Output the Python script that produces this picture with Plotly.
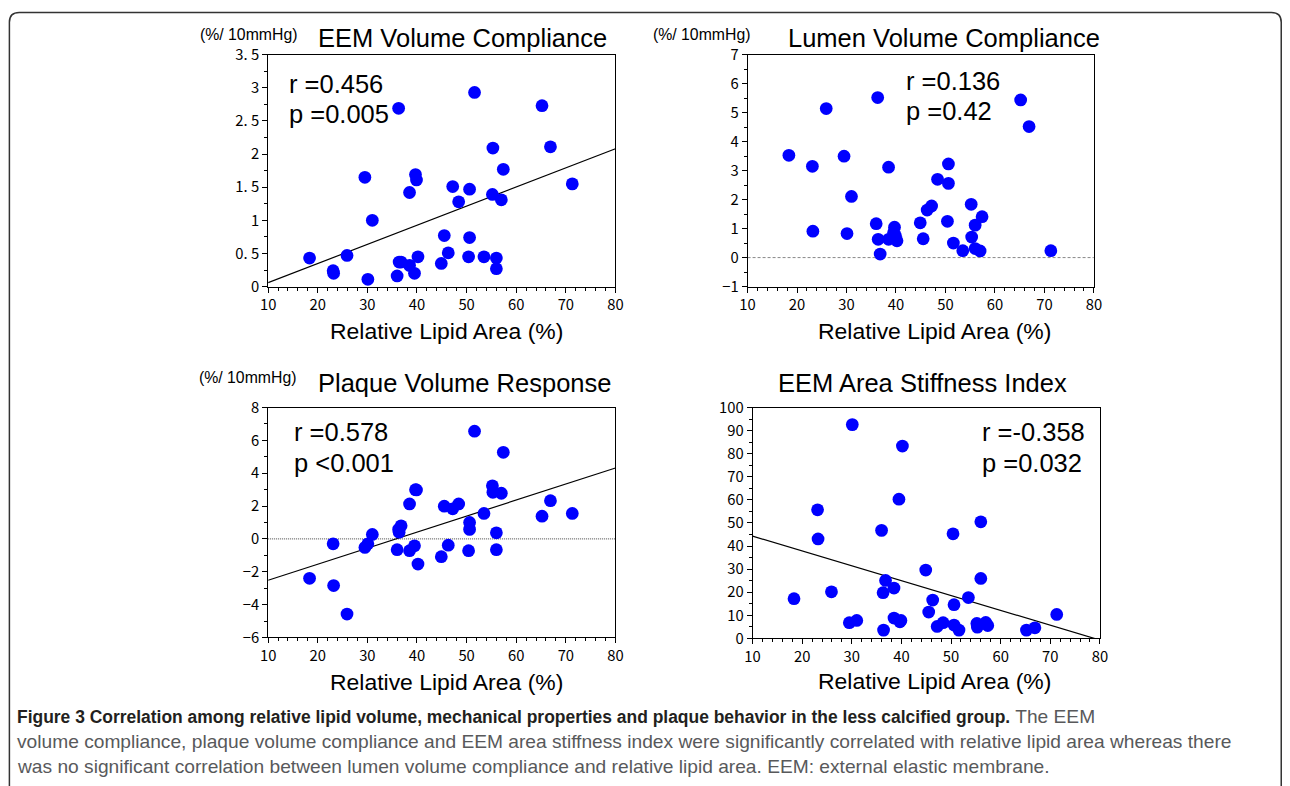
import plotly.graph_objects as go

W, H = 1290, 786
# measured placement of the page in the final picture (picture_px = S * page_px + B)
SX, BX = 0.9867, 8.1
SY, BY = 0.9737, 11.3
FS = 1.0 / ((SX + SY) / 2)  # font compensation

# ---------------- data ----------------
lipid_area = [18.35, 23.1, 23.2, 25.9, 29.5, 30.1, 31.0, 36.0, 36.3, 36.4, 36.8, 38.5,
              38.5, 39.5, 39.7, 39.9, 40.2, 44.9, 45.5, 46.3, 47.2, 48.4, 50.4, 50.6,
              50.6, 51.6, 53.5, 55.2, 55.3, 56.0, 56.0, 57.0, 57.4, 65.2, 66.9, 71.3]

eem_volume_compliance = [0.43, 0.24, 0.20, 0.47, 1.65, 0.11, 1.00, 0.16, 2.69, 0.37, 0.37, 1.42,
                         0.32, 0.20, 1.69, 1.61, 0.45, 0.35, 0.77, 0.51, 1.51, 1.28, 0.45, 1.47,
                         0.74, 2.93, 0.45, 1.39, 2.09, 0.43, 0.27, 1.31, 1.77, 2.73, 2.11, 1.55]

lumen_volume_compliance = [3.53, 3.15, 0.91, 5.14, 3.50, 0.83, 2.11, 1.17, 5.52, 0.63, 0.12, 3.12,
                           0.63, 0.86, 1.05, 0.75, 0.58, 1.20, 0.65, 1.64, 1.78, 2.70, 1.25, 3.23,
                           2.56, 0.50, 0.24, 1.84, 0.71, 1.12, 0.31, 0.23, 1.41, 5.44, 4.52, 0.24]

plaque_volume_response = [-2.40, -0.30, -2.84, -4.58, -0.52, -0.30, 0.27, -0.66, 0.58, 0.41, 0.80, 2.13,
                          -0.72, -0.42, 3.00, 2.98, -1.53, -1.08, 1.99, -0.38, 1.83, 2.13, -0.72, 1.00,
                          0.58, 6.56, 1.55, 3.23, 2.84, 0.37, -0.66, 2.78, 5.27, 1.38, 2.33, 1.55]

eem_stiffness_index = [17.2, 55.7, 43.1, 20.2, 6.8, 92.6, 7.8, 46.8, 19.8, 3.6, 25.1, 21.8,
                       8.8, 60.3, 7.2, 7.8, 83.3, 29.6, 11.4, 16.6, 5.2, 6.8, 45.3, 5.8,
                       14.6, 3.6, 17.7, 6.5, 4.9, 50.5, 26.0, 6.9, 5.6, 3.6, 4.6, 10.4]

panel_titles = ["EEM Volume Compliance", "Lumen Volume Compliance",
                "Plaque Volume Response", "EEM Area Stiffness Index"]
stats_r = ["r =0.456", "r =0.136", "r =0.578", "r =-0.358"]
stats_p = ["p =0.005", "p =0.42", "p <0.001", "p =0.032"]
unit_label = "(%/ 10mmHg)"
x_title = "Relative Lipid Area (%)"

# regression lines (None = not drawn)
fit_slope = [0.02886, None, 0.0977, -0.643]
fit_intercept = [-0.229, None, -3.497, 50.73]

x_ticks = [10, 20, 30, 40, 50, 60, 70, 80]
y1_ticks = [0, 0.5, 1, 1.5, 2, 2.5, 3, 3.5]
y1_ticktext = ["0", "0. 5", "1", "1. 5", "2", "2. 5", "3", "3. 5"]
y2_ticks = [-1, 0, 1, 2, 3, 4, 5, 6, 7]
y2_ticktext = ["−1", "0", "1", "2", "3", "4", "5", "6", "7"]
y3_ticks = [-6, -4, -2, 0, 2, 4, 6, 8]
y3_ticktext = ["−6", "−4", "−2", "0", "2", "4", "6", "8"]
y4_ticks = [0, 10, 20, 30, 40, 50, 60, 70, 80, 90, 100]
y4_ticktext = ["0", "10", "20", "30", "40", "50", "60", "70", "80", "90", "100"]

caption_bold = "Figure 3 Correlation among relative lipid volume, mechanical properties and plaque behavior in the less calcified group."
caption_lines = [" The EEM",
                 "volume compliance, plaque volume compliance and EEM area stiffness index were significantly correlated with relative lipid area whereas there",
                 "was no significant correlation between lumen volume compliance and relative lipid area. EEM: external elastic membrane."]

# ---------------- layout helpers (target picture pixel -> paper) ----------------
def fx(p):
    return ((p - BX) / SX) / W

def fy(p):
    return 1 - ((p - BY) / SY) / H

def fs(v):
    return round(v * FS, 2)

# panel boxes in target pixels (left, right, top, bottom)
boxes = [(268, 615, 54, 286), (747, 1093, 54, 286), (268, 615, 407, 637), (752, 1099, 407, 638)]
yranges = [[0, 3.5], [-1, 7], [-6, 8], [0, 100]]
yticks = [y1_ticks, y2_ticks, y3_ticks, y4_ticks]
yticktexts = [y1_ticktext, y2_ticktext, y3_ticktext, y4_ticktext]
yminor = [0.25, 0.5, 1, 5]
ydata = [eem_volume_compliance, lumen_volume_compliance, plaque_volume_response, eem_stiffness_index]

fig = go.Figure()
tickfont = dict(family="Noto Sans CJK JP, DejaVu Sans, sans-serif", size=fs(14.5), color="black")
layout_axes = {}
for i in range(4):
    n = "" if i == 0 else str(i + 1)
    xa, ya = "x" + n, "y" + n
    l, r, t, b = boxes[i]
    layout_axes["xaxis" + n] = dict(
        domain=[fx(l), fx(r)], range=[10, 80], anchor=ya, tickvals=x_ticks,
        showline=True, linecolor="black", linewidth=1, mirror=True,
        ticks="outside", ticklen=5, tickcolor="black", tickwidth=1,
        minor=dict(dtick=2, tick0=10, ticks="outside", ticklen=3, tickcolor="black"),
        showgrid=False, zeroline=False, tickfont=tickfont, fixedrange=True)
    layout_axes["yaxis" + n] = dict(
        domain=[fy(b), fy(t)], range=yranges[i], anchor=xa, tickvals=yticks[i], ticktext=yticktexts[i],
        showline=True, linecolor="black", linewidth=1, mirror=True,
        ticks="outside", ticklen=5, tickcolor="black", tickwidth=1,
        minor=dict(dtick=yminor[i], tick0=0, ticks="outside", ticklen=3, tickcolor="black"),
        showgrid=False, zeroline=False, tickfont=tickfont, fixedrange=True)

    if i == 1:
        fig.add_trace(go.Scatter(x=[10, 80], y=[0, 0], mode="lines", xaxis=xa, yaxis=ya,
                                 line=dict(color="#888888", width=1, dash="3px,2px"), showlegend=False))
    if i == 2:
        fig.add_trace(go.Scatter(x=[10, 80], y=[0, 0], mode="lines", xaxis=xa, yaxis=ya,
                                 line=dict(color="#444444", width=1, dash="1px,1px"), showlegend=False))
    if fit_slope[i] is not None:
        xs = [10, 80]
        ys = [fit_intercept[i] + fit_slope[i] * v for v in xs]
        fig.add_trace(go.Scatter(x=xs, y=ys, mode="lines", xaxis=xa, yaxis=ya,
                                 line=dict(color="black", width=1.2), showlegend=False))
    fig.add_trace(go.Scatter(x=lipid_area, y=ydata[i], mode="markers", xaxis=xa, yaxis=ya,
                             marker=dict(color="#0000FF", size=fs(12.5), line=dict(width=0)),
                             showlegend=False))

annotations = []
title_font = dict(family="Liberation Sans, Arial, sans-serif", size=fs(25), color="black")
title_pos = [(462, 37), (943, 37), (464, 382), (922, 382)]
for i in range(4):
    annotations.append(dict(text=panel_titles[i], x=fx(title_pos[i][0]), y=fy(title_pos[i][1]),
                            xref="paper", yref="paper", xanchor="center", yanchor="middle",
                            showarrow=False, font=title_font))
for (ux, uy) in [(198, 34), (651, 34), (197, 377)]:
    annotations.append(dict(text=unit_label, x=fx(ux), y=fy(uy), xref="paper", yref="paper",
                            xanchor="left", yanchor="middle", showarrow=False,
                            font=dict(family="Liberation Sans, Arial, sans-serif", size=fs(15.5), color="black")))
stat_pos = [(287, 83, 113), (903, 80, 110), (292, 431, 462), (979, 431, 462)]
for i in range(4):
    sx, ry, py_ = stat_pos[i]
    for txt, yy in [(stats_r[i], ry), (stats_p[i], py_)]:
        annotations.append(dict(text=txt, x=fx(sx), y=fy(yy), xref="paper", yref="paper",
                                xanchor="left", yanchor="middle", showarrow=False, font=title_font))
for (ax_, ay_) in [(446, 330), (934, 330), (446, 682), (934, 681)]:
    annotations.append(dict(text=x_title, x=fx(ax_), y=fy(ay_), xref="paper", yref="paper",
                            xanchor="center", yanchor="middle", showarrow=False,
                            font=dict(family="Liberation Sans, Arial, sans-serif", size=fs(22.5), color="black")))
cap_font = dict(family="Liberation Sans, Arial, sans-serif", size=fs(18.8), color="#58595b")
annotations.append(dict(text=f"<span style='color:#231f20;font-size:{fs(17.1)}px'><b>" + caption_bold + "</b></span>"
                        + caption_lines[0],
                        x=fx(15), y=fy(716), xref="paper", yref="paper", xanchor="left", yanchor="middle",
                        showarrow=False, font=cap_font))
for k, yy in [(1, 741), (2, 766)]:
    annotations.append(dict(text=caption_lines[k], x=fx(15), y=fy(yy), xref="paper", yref="paper",
                            xanchor="left", yanchor="middle", showarrow=False, font=cap_font))

# rounded frame (right edge limited to what the page can show)
x0, x1, y0 = max(fx(9.5), 0.0006), 0.9994, min(fy(11.5), 0.9994)
rx, ry_ = 10 / W, 10 / H
yb = -0.05
frame_path = (f"M {x0},{yb} L {x0},{y0 - ry_} Q {x0},{y0} {x0 + rx},{y0} "
              f"L {x1 - rx},{y0} Q {x1},{y0} {x1},{y0 - ry_} L {x1},{yb}")

fig.update_layout(
    autosize=True,
    margin=dict(l=0, r=0, t=0, b=0, pad=0),
    paper_bgcolor="white", plot_bgcolor="white",
    showlegend=False, annotations=annotations,
    shapes=[dict(type="path", path=frame_path, xref="paper", yref="paper",
                 line=dict(color="#333333", width=1.5))],
    **layout_axes)

# div pinned to the page origin so the figure fills the 1290x786 window exactly
fig.write_html("out.html", config={"displayModeBar": False},
               default_width=f"{W}px; position:absolute; left:0px; top:0px",
               default_height=f"{H}px")
